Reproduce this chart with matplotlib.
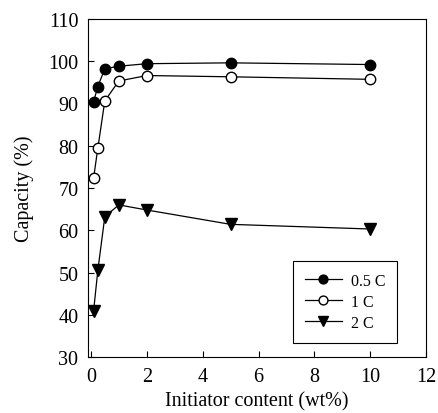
import matplotlib
matplotlib.use('Agg')
from matplotlib import pyplot as plt

plt.rcParams['font.family'] = ['Liberation Serif', 'DejaVu Serif']
plt.rcParams['font.size'] = 14.5

# Data
content = [0.1, 0.25, 0.5, 1, 2, 5, 10]
cap_05c = [90.4, 94.0, 98.2, 98.8, 99.4, 99.6, 99.2]
cap_1c = [72.4, 79.4, 90.6, 95.3, 96.6, 96.3, 95.7]
cap_2c = [41.0, 50.5, 63.2, 66.0, 64.8, 61.4, 60.3]
labels = ['0.5 C', '1 C', '2 C']

fig = plt.figure(figsize=(4.38, 4.14), dpi=100)
ax = fig.add_axes([0.201, 0.135, 0.772, 0.817])

ms = 7.5
ax.plot(content, cap_05c, '-o', color='black', mfc='black', ms=ms, lw=0.9, label=labels[0])
ax.plot(content, cap_1c, '-o', color='black', mfc='white', ms=ms, lw=0.9, label=labels[1])
ax.plot(content, cap_2c, '-v', color='black', mfc='black', ms=ms + 0.5, lw=0.9, label=labels[2])

ax.set_xlim(-0.1, 12)
ax.set_ylim(30, 110)
ax.set_xticks(range(0, 13, 2))
ax.set_yticks(range(30, 111, 10))
ax.tick_params(direction='in', length=4, width=0.8, pad=7)
for s in ax.spines.values():
    s.set_linewidth(0.8)

ax.set_xlabel('Initiator content (wt%)', labelpad=4)
ax.set_ylabel('Capacity (%)', labelpad=10)

leg = ax.legend(loc='upper right', bbox_to_anchor=(0.914, 0.284), borderaxespad=0,
                fancybox=False, edgecolor='black', framealpha=1, fontsize=11.5,
                handlelength=2.3, handletextpad=0.55, borderpad=0.75,
                labelspacing=0.3, markerscale=0.85)
leg.get_frame().set_linewidth(0.8)

plt.savefig('out.png', dpi=100)
